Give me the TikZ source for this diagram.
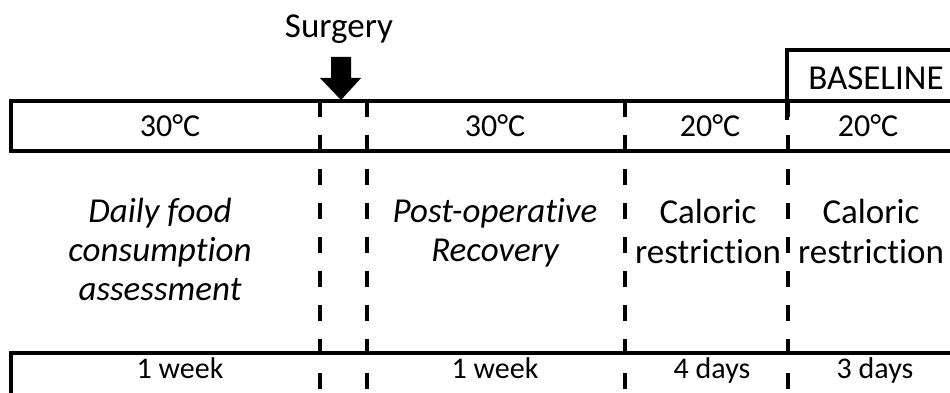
\documentclass[tikz,border=0pt]{standalone}
\usepackage{fontspec}
\setmainfont{Carlito}[Ligatures=NoCommon]
\begin{document}
\begin{tikzpicture}[x=1pt,y=-1pt,
  frame/.style={line width=3.4pt},
  divider/.style={line width=3.4pt,dash pattern=on 16pt off 18pt},
  big/.style={font=\fontsize{35}{39.5}\selectfont},
  temp/.style={font=\fontsize{32}{36}\selectfont},
  small/.style={font=\fontsize{30}{36}\selectfont},
  lbl/.style={anchor=base,inner sep=0pt,align=center}]
\useasboundingbox (0,0) rectangle (950,393);
% coordinates
\coordinate (tl) at (11,101);
\coordinate (tr) at (950,101);
\coordinate (bl) at (11,151);
\coordinate (br) at (950,151);
\coordinate (ll) at (11,353);
\coordinate (lr) at (950,353);
\coordinate (lb) at (11,393);
\coordinate (bxa) at (787,120);
\coordinate (bxb) at (787,50);
\coordinate (bxc) at (950,50);
% top band
\draw[frame] (tr) -- (tl) -- (bl) -- (br);
% bottom band
\draw[frame] (lr) -- (ll) -- (lb);
% baseline box
\draw[frame] (bxa) -- (bxb) -- (bxc);
% dividers
\foreach \x/\n in {320/a,367/b,625/c,788/d}{
  \coordinate (d\n t) at (\x,101);
  \coordinate (d\n b) at (\x,393);
  \draw[divider] (d\n t) -- (d\n b);
}
% surgery arrow
\node[lbl,big] (surg) at (339,38) {Surgery};
\fill (331,57) -- (351,57) -- (351,78) -- (361,78) -- (341,100) -- (320,78) -- (331,78) -- cycle;
\node[lbl,big] (base) at (876,90) {BASELINE};
% band labels
\node[lbl,temp] (t1) at (170,137) {30°C};
\node[lbl,temp] (t2) at (495,137) {30°C};
\node[lbl,temp] (t3) at (710,137) {20°C};
\node[lbl,temp] (t4) at (868,137) {20°C};
% phase texts (base anchor = last line)
\node[lbl,font=\fontsize{35}{39}\selectfont\itshape] (p1) at (160,300) {Daily food\\consumption\\assessment};
\node[lbl,font=\fontsize{35}{39}\selectfont\itshape] (p2) at (495,261) {Post-operative\\Recovery};
\node[lbl,font=\fontsize{35}{40}\selectfont] (p3) at (708,263) {Caloric\\restriction};
\node[lbl,font=\fontsize{35}{40}\selectfont] (p4) at (871,263) {Caloric\\restriction};
% durations
\node[lbl,small] (w1) at (180,378) {1 week};
\node[lbl,small] (w2) at (495,378) {1 week};
\node[lbl,small] (w3) at (712,378) {4 days};
\node[lbl,small] (w4) at (875,378) {3 days};
\end{tikzpicture}
\end{document}
